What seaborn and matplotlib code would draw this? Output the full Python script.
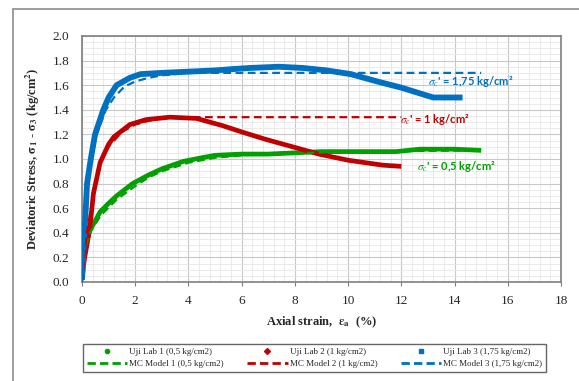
import seaborn as sns
import matplotlib.pyplot as plt
import pandas as pd
from matplotlib.lines import Line2D
from matplotlib.patches import Rectangle
from matplotlib.ticker import MultipleLocator

# lab test data
lab1_x = [0, 0.05, 0.1, 0.3, 0.68, 1.0, 1.3, 1.9, 2.5, 3.0, 3.8, 4.5, 5, 6, 7, 8, 9, 10, 11, 11.8, 12.7, 14, 15]
lab1_y = [0.02, 0.2, 0.28, 0.42, 0.57, 0.64, 0.70, 0.80, 0.87, 0.92, 0.98, 1.01, 1.03, 1.04, 1.04, 1.05, 1.06, 1.06, 1.06, 1.06, 1.08, 1.08, 1.07]
lab2_x = [0, 0.05, 0.1, 0.2, 0.3, 0.43, 0.68, 1.0, 1.2, 1.8, 2.4, 3.3, 4.3, 5.3, 6.0, 6.9, 7.9, 8.9, 10.0, 11.3, 12.0]
lab2_y = [0.02, 0.12, 0.2, 0.32, 0.45, 0.72, 0.97, 1.12, 1.18, 1.28, 1.32, 1.34, 1.33, 1.27, 1.22, 1.16, 1.10, 1.04, 0.99, 0.95, 0.94]
lab3_x = [0, 0.02, 0.05, 0.1, 0.19, 0.33, 0.49, 0.8, 1.0, 1.3, 1.8, 2.2, 3.0, 4.0, 5.0, 5.6, 6.3, 7.4, 8.3, 9.2, 10.1, 11.1, 12.0, 12.6, 13.2, 14.3]
lab3_y = [0.02, 0.1, 0.25, 0.42, 0.8, 1.0, 1.2, 1.4, 1.5, 1.6, 1.66, 1.69, 1.70, 1.71, 1.72, 1.73, 1.74, 1.75, 1.74, 1.72, 1.69, 1.63, 1.58, 1.54, 1.50, 1.50]

# Mohr-Coulomb model curves
mc1_x = [0, 0.05, 0.3, 0.7, 1.3, 2.0, 2.5, 3.0, 4.0, 5.0, 6.0, 7.0, 10, 15]
mc1_y = [0, 0.22, 0.40, 0.54, 0.67, 0.78, 0.85, 0.90, 0.97, 1.01, 1.03, 1.04, 1.06, 1.07]
mc2_x = [0, 0.1, 0.2, 0.3, 0.5, 0.7, 1.0, 1.5, 2.0, 2.5, 3.0, 3.5, 12]
mc2_y = [0, 0.25, 0.42, 0.55, 0.80, 0.97, 1.10, 1.22, 1.28, 1.31, 1.33, 1.34, 1.34]
mc3_x = [0, 0.1, 0.2, 0.35, 0.55, 0.9, 1.2, 1.6, 2.0, 2.5, 3.0, 4.0, 15]
mc3_y = [0, 0.40, 0.75, 1.0, 1.2, 1.4, 1.5, 1.59, 1.63, 1.66, 1.68, 1.70, 1.70]

labels_lab = ['Uji Lab 1 (0,5 kg/cm2)', 'Uji Lab 2 (1 kg/cm2)', 'Uji Lab 3 (1,75 kg/cm2)']
labels_mc = ['MC Model 1 (0,5 kg/cm2)', 'MC Model 2 (1 kg/cm2)', 'MC Model 3 (1,75 kg/cm2)']
notes = ["$\\sigma_c$' = 0,5 kg/cm²", "$\\sigma_c$' = 1 kg/cm²", "$\\sigma_c$' = 1,75 kg/cm²"]
note_xy = [(12.6, 0.94), (11.95, 1.32), (13.0, 1.63)]

green, red, blue = '#00A000', '#C00000', '#0070C0'
colors = [green, red, blue]
markers = ['o', 'D', 's']

sns.set_style('white')
plt.rcParams['font.family'] = ['Liberation Serif', 'DejaVu Serif']
plt.rcParams['mathtext.fontset'] = 'stix'

fig = plt.figure(figsize=(5.79, 3.81), dpi=100)
ax = fig.add_axes([82/579, 1-282/381, (561-82)/579, (282-36)/381])

fig.patches.append(Rectangle((13/579, -0.1), 1.2, 1 - 9/381 + 0.1, transform=fig.transFigure,
                             fill=False, edgecolor='#8c8c8c', lw=1.2, zorder=0))

labs = [(lab1_x, lab1_y), (lab2_x, lab2_y), (lab3_x, lab3_y)]
mcs = [(mc1_x, mc1_y), (mc2_x, mc2_y), (mc3_x, mc3_y)]

widths = [3.4, 3.4, 4.2]
for (x, y), c, w in zip(labs, colors, widths):
    df = pd.DataFrame({'x': x, 'y': y})
    sns.lineplot(data=df, x='x', y='y', ax=ax, color=c, lw=w, sort=False, zorder=3,
                 solid_capstyle='butt', solid_joinstyle='round')
for (x, y), c in zip(mcs, colors):
    df = pd.DataFrame({'x': x, 'y': y})
    sns.lineplot(data=df, x='x', y='y', ax=ax, color=c, lw=1.6, sort=False, zorder=4,
                 linestyle=(0, (3.5, 2)))

for t, (tx, ty), c in zip(notes, note_xy, colors):
    ax.text(tx, ty, t, color=c, fontsize=8, fontweight='bold', va='center', ha='left',
            family=['Lato', 'DejaVu Sans'], zorder=5)

ax.set_xlim(0, 18)
ax.set_ylim(0, 2.0)
ax.xaxis.set_major_locator(MultipleLocator(2))
ax.xaxis.set_minor_locator(MultipleLocator(0.4))
ax.yaxis.set_major_locator(MultipleLocator(0.2))
ax.yaxis.set_minor_locator(MultipleLocator(0.05))
ax.set_yticks(ax.get_yticks())
ax.set_yticklabels([f'{v:.1f}' for v in ax.get_yticks()])
ax.set_ylim(0, 2.0)
ax.grid(which='major', color='#c8c8c8', lw=0.8)
ax.grid(which='minor', color='#e6e6e6', lw=0.6)
ax.set_axisbelow(True)
for s in ax.spines.values():
    s.set_color('#7f7f7f')
    s.set_linewidth(1.2)
ax.tick_params(axis='both', which='major', labelsize=9.5, length=3, color='#7f7f7f',
               direction='out', bottom=True, left=False, pad=6)
ax.tick_params(which='minor', length=0)

ax.set_xlabel(r"Axial strain,  $\mathbf{\varepsilon_a}$  (%)", fontsize=9, fontweight='bold', labelpad=6)
ax.set_ylabel(r"Deviatoric Stress, $\mathbf{\sigma_1}$ - $\mathbf{\sigma_3}$ (kg/cm$^\mathbf{2}$)",
              fontsize=9, fontweight='bold', labelpad=8)

handles = []
for i in range(3):
    handles.append(Line2D([], [], color=colors[i], marker=markers[i], markersize=3, lw=0,
                          label=labels_lab[i]))
    handles.append(Line2D([], [], color=colors[i], lw=2, linestyle=(0, (3, 1.5)), label=labels_mc[i]))
leg = fig.legend(handles=handles, ncol=3, loc='center',
                 bbox_to_anchor=(314.5/579, 1-358/381),
                 fontsize=6.5, frameon=True, fancybox=False, handlelength=4.5, borderpad=0.35,
                 labelspacing=0.45, handletextpad=0.2, columnspacing=2.6)
leg.get_frame().set_edgecolor('#404040')
leg.get_frame().set_linewidth(1.0)

plt.savefig('out.png', dpi=100)
plt.close()
